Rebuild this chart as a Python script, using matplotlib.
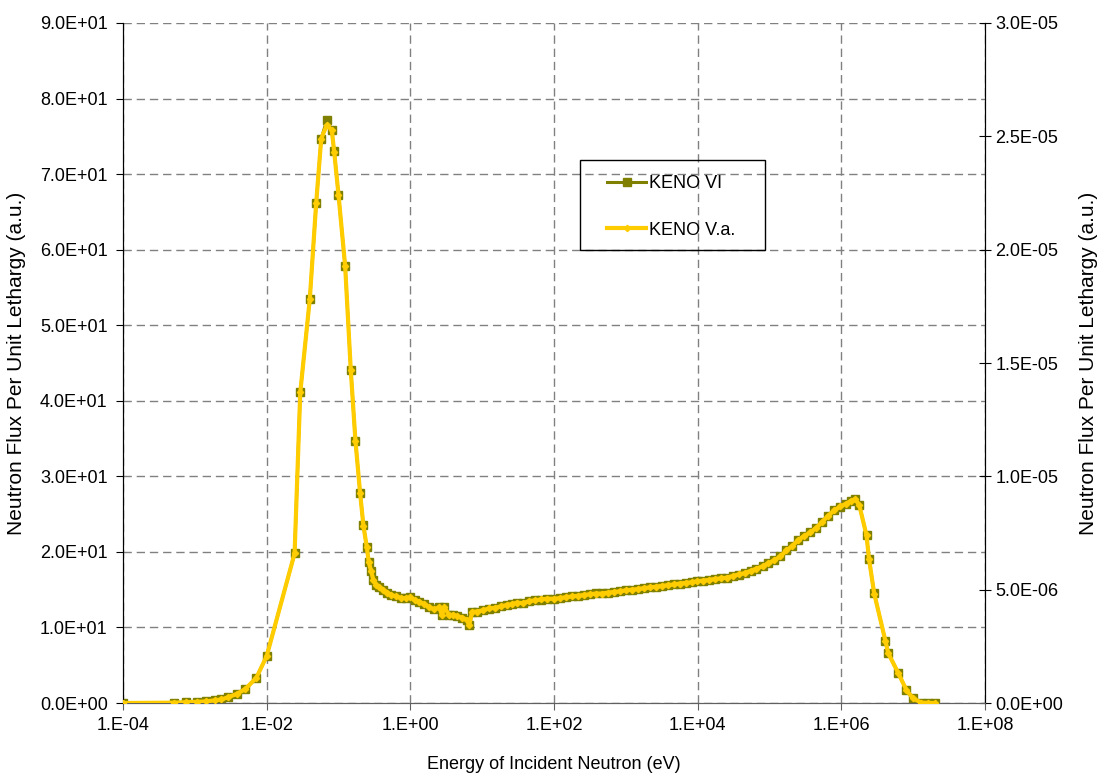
import matplotlib
matplotlib.use('AGG')
import matplotlib.pyplot as plt
from matplotlib.patches import Rectangle
from matplotlib.ticker import FixedLocator, FuncFormatter
import numpy as np

# energies as log10(E / eV)
log_energy = [
    -4.00, -3.29, -3.125, -2.976, -2.847, -2.722, -2.629, -2.542, -2.417, -2.296,
    -2.143, -2.0, -1.611, -1.532, -1.399, -1.310, -1.240, -1.162, -1.093, -1.060,
    -1.0, -0.907, -0.829, -0.764, -0.699, -0.653, -0.607, -0.579, -0.546, -0.514,
    -0.472, -0.431, -0.375, -0.319, -0.264, -0.194, -0.125, -0.056, 0.0, 0.069,
    0.125, 0.194, 0.264, 0.333, 0.403, 0.440, 0.472, 0.542, 0.597, 0.653,
    0.722, 0.792, 0.819, 0.861, 0.931, 1.014, 1.097, 1.181, 1.264, 1.347,
    1.417, 1.486, 1.569, 1.653, 1.736, 1.819, 1.903, 2.0, 2.083, 2.167,
    2.25, 2.333, 2.417, 2.5, 2.583, 2.667, 2.75, 2.833, 2.917, 3.0,
    3.083, 3.167, 3.25, 3.333, 3.417, 3.5, 3.583, 3.667, 3.75, 3.833,
    3.917, 3.99, 4.069, 4.153, 4.236, 4.319, 4.403, 4.486, 4.569, 4.653,
    4.736, 4.819, 4.903, 4.986, 5.069, 5.153, 5.236, 5.319, 5.403, 5.486,
    5.569, 5.653, 5.736, 5.819, 5.903, 5.986, 6.069, 6.139, 6.194, 6.25,
    6.351, 6.385, 6.458, 6.615, 6.653, 6.792, 6.907, 7.0, 7.115, 7.208,
    7.301,
]

# KENO VI flux per unit lethargy (left axis, a.u.)
keno_vi = [
    0.0, 0.05, 0.1, 0.15, 0.22, 0.35, 0.48, 0.75, 1.2, 1.85,
    3.35, 6.2, 19.8, 41.1, 53.5, 66.2, 74.7, 77.2, 75.8, 73.0,
    67.3, 57.8, 44.1, 34.7, 27.8, 23.5, 20.7, 18.7, 17.5, 16.3,
    15.6, 15.3, 14.9, 14.6, 14.3, 14.1, 13.9, 13.9, 14.0, 13.6,
    13.4, 13.1, 12.7, 12.4, 12.7, 11.6, 12.7, 11.6, 11.7, 11.5,
    11.3, 11.0, 10.3, 12.1, 12.1, 12.3, 12.5, 12.6, 12.8, 13.0,
    13.1, 13.3, 13.2, 13.5, 13.6, 13.7, 13.8, 13.8, 13.9, 14.0,
    14.1, 14.2, 14.3, 14.4, 14.5, 14.5, 14.6, 14.7, 14.8, 14.9,
    15.0, 15.1, 15.2, 15.3, 15.4, 15.5, 15.6, 15.7, 15.8, 15.9,
    16.0, 16.1, 16.2, 16.3, 16.4, 16.5, 16.6, 16.8, 17.0, 17.2,
    17.5, 17.8, 18.1, 18.5, 18.9, 19.4, 20.2, 20.8, 21.6, 22.1,
    22.6, 23.2, 24.0, 24.8, 25.5, 26.0, 26.4, 26.8, 27.0, 26.2,
    22.2, 19.1, 14.5, 8.2, 6.6, 4.0, 1.7, 0.6, 0.05, 0.02,
    0.0,
]

# KENO V.a. flux per unit lethargy (right axis, units of 1E-06)
keno_va = [
    0.0, 0.017, 0.033, 0.05, 0.073, 0.117, 0.16, 0.25, 0.4, 0.617,
    1.117, 2.067, 6.6, 13.7, 17.83, 22.07, 24.9, 25.5, 25.27, 24.33,
    22.43, 19.27, 14.7, 11.57, 9.27, 7.83, 6.9, 6.23, 5.83, 5.43,
    5.2, 5.1, 4.97, 4.87, 4.77, 4.7, 4.63, 4.63, 4.67, 4.53,
    4.47, 4.37, 4.23, 4.13, 4.23, 3.87, 4.23, 3.87, 3.9, 3.83,
    3.77, 3.67, 3.43, 4.03, 4.03, 4.1, 4.17, 4.2, 4.27, 4.33,
    4.37, 4.43, 4.4, 4.5, 4.53, 4.57, 4.6, 4.6, 4.63, 4.67,
    4.7, 4.73, 4.77, 4.8, 4.83, 4.83, 4.87, 4.9, 4.93, 4.97,
    5.0, 5.03, 5.07, 5.1, 5.13, 5.17, 5.2, 5.23, 5.27, 5.3,
    5.33, 5.37, 5.4, 5.43, 5.47, 5.5, 5.53, 5.6, 5.67, 5.73,
    5.83, 5.93, 6.03, 6.17, 6.3, 6.47, 6.73, 6.93, 7.2, 7.37,
    7.53, 7.73, 8.0, 8.27, 8.5, 8.67, 8.8, 8.93, 9.0, 8.73,
    7.4, 6.37, 4.83, 2.73, 2.2, 1.33, 0.567, 0.2, 0.017, 0.007,
    0.0,
]

x_ticks = [1e-4, 1e-2, 1e0, 1e2, 1e4, 1e6, 1e8]
left_ticks = [0, 10, 20, 30, 40, 50, 60, 70, 80, 90]
right_ticks = [0, 5e-6, 1e-5, 1.5e-5, 2e-5, 2.5e-5, 3e-5]


def main():
    plt.rcParams['font.family'] = ['Liberation Sans', 'DejaVu Sans']
    plt.rcParams['font.size'] = 13

    energy = np.power(10.0, log_energy)
    va = np.array(keno_va) * 1e-6

    fig = plt.figure(figsize=(11.02, 7.74), dpi=100)
    ax = fig.add_axes([0.1116, 0.0917, 0.7822, 0.8786])
    ax2 = ax.twinx()

    l1, = ax.plot(energy, keno_vi, color='#808000', lw=2.2, marker='s', markersize=5.8,
                  markeredgecolor='#808000', label='KENO VI', zorder=3)
    l2, = ax2.plot(energy, va, color='#FFCC00', lw=3.0, marker='D', markersize=3.2,
                   markeredgecolor='#FFCC00', label='KENO V.a.', zorder=4)

    ax.set_xscale('log')
    ax.set_xlim(1e-4, 1e8)
    ax.set_ylim(0, 90)
    ax2.set_ylim(0, 3e-5)
    ax.xaxis.set_major_locator(FixedLocator(x_ticks))
    ax.xaxis.set_minor_locator(FixedLocator([]))
    ax.xaxis.set_major_formatter(FuncFormatter(lambda v, p: '%#.0E' % v))
    ax.yaxis.set_major_locator(FixedLocator(left_ticks))
    ax.yaxis.set_major_formatter(FuncFormatter(lambda v, p: '%.1E' % v))
    ax2.yaxis.set_major_locator(FixedLocator(right_ticks))
    ax2.yaxis.set_major_formatter(FuncFormatter(lambda v, p: '%.1E' % v))

    ax.grid(True, which='major', color='#808080', lw=1.0, linestyle=(0, (6, 3.5)))
    ax.set_axisbelow(True)

    for a in (ax, ax2):
        a.spines['top'].set_visible(False)
        a.spines['left'].set_color('black')
        a.spines['right'].set_color('black')
        a.spines['bottom'].set_color('#606060')
    ax.tick_params(axis='y', direction='out', length=5, color='black', pad=6)
    ax.tick_params(axis='x', direction='out', length=5, color='#606060', pad=5)
    ax2.tick_params(axis='y', direction='inout', length=9, color='black', pad=3)

    ax.set_xlabel('Energy of Incident Neutron (eV)', labelpad=16)
    ax.set_ylabel('Neutron Flux Per Unit Lethargy (a.u.)', fontsize=15, labelpad=10)
    ax2.set_ylabel('Neutron Flux Per Unit Lethargy (a.u.)', fontsize=15, rotation=90,
                   labelpad=11)

    # legend box outline as in the original, entries placed inside it
    W, H = 1102.0, 774.0
    fig.patches.append(Rectangle((580 / W, 1 - 250 / H), 185 / W, 90 / H,
                                 transform=fig.transFigure, fill=False,
                                 edgecolor='black', lw=1.0, zorder=10))
    fig.legend([l1, l2], ['KENO VI', 'KENO V.a.'], loc='upper left',
               bbox_to_anchor=(607 / W, 1 - 175 / H), frameon=False,
               borderpad=0.0, labelspacing=1.65, handlelength=2.17,
               handletextpad=0.17, borderaxespad=0.0, fontsize=13)

    fig.savefig('out.png', dpi=100)


if "__main__" in __name__:
    main()
